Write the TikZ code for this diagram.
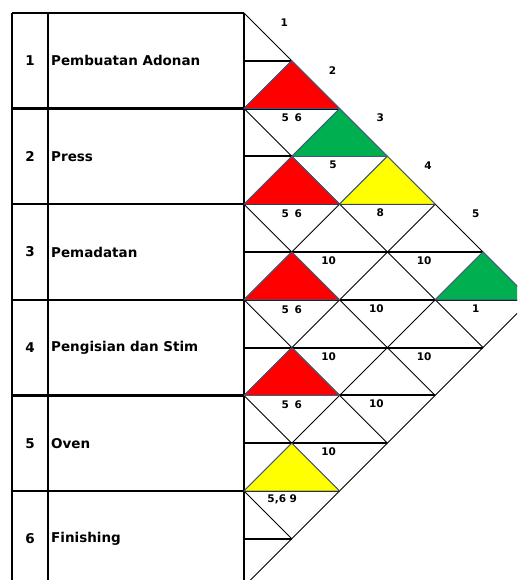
\documentclass[tikz,border=0pt]{standalone}
\usepackage{fontspec}
\setmainfont{DejaVu Sans}
\definecolor{arcred}{RGB}{255,0,0}
\definecolor{arcgreen}{RGB}{0,176,80}
\definecolor{arcyellow}{RGB}{255,255,0}
\definecolor{triedge}{RGB}{65,90,125}
\begin{document}
\begin{tikzpicture}[x=1pt,y=-1pt,
  tableline/.style={line width=2.2pt,black},
  gridh/.style={line width=1.9pt,black},
  gridd/.style={line width=0.9pt,black},
  tri/.style={draw=triedge,line width=0.9pt,line join=round},
  rowname/.style={font=\fontsize{13.5}{15}\selectfont\bfseries,anchor=west,inner sep=0pt},
  rownum/.style={font=\fontsize{13.5}{15}\selectfont\bfseries,inner sep=0pt},
  code/.style={font=\fontsize{10.5}{12}\selectfont\bfseries,inner sep=0pt}]
\useasboundingbox (0,0) rectangle (517,580);
\clip (0,0) rectangle (517,580);
% table
\foreach \k in {0,...,6}{
  \draw[tableline] (12,{13+95.6*\k}) -- (244,{13+95.6*\k});
}
\foreach \x in {12,48,244}{
  \draw[tableline] (\x,13) -- (\x,600);
}
\node[rownum] (k1) at (30,60.8) {1};
\node[rownum] (k2) at (30,156.4) {2};
\node[rownum] (k3) at (30,252.0) {3};
\node[rownum] (k4) at (30,347.6) {4};
\node[rownum] (k5) at (30,443.2) {5};
\node[rownum] (k6) at (30,538.8) {6};
\node[rowname] (n1) at (51,60.8) {Pembuatan Adonan};
\node[rowname] (n2) at (51,156.4) {Press};
\node[rowname] (n3) at (51,252.0) {Pemadatan};
\node[rowname] (n4) at (51,347.6) {Pengisian dan Stim};
\node[rowname] (n5) at (51,443.2) {Oven};
\node[rowname] (n6) at (51,538.8) {Finishing};
% relationship grid
\begin{scope}[shift={(244,13)},x=47.8pt,y=-47.8pt]
  \foreach \k in {1,...,11}{
    \pgfmathtruncatemacro\e{min(\k,12-\k)}
    \draw[gridh] (0,\k) -- (\e,\k);
  }
  \foreach \m in {0,...,5}{
    \draw[gridd] (0,2*\m) -- (6-\m,6+\m);
  }
  \foreach \m in {1,...,6}{
    \draw[gridd] (\m,\m) -- (0,2*\m);
  }
  % coloured upper halves
  \fill[arcred,tri] (0,2) -- (1,1) -- (2,2) -- cycle;
  \fill[arcgreen,tri] (1,3) -- (2,2) -- (3,3) -- cycle;
  \fill[arcyellow,tri] (2,4) -- (3,3) -- (4,4) -- cycle;
  \fill[arcgreen,tri] (4,6) -- (5,5) -- (6,6) -- cycle;
  \fill[arcred,tri] (0,4) -- (1,3) -- (2,4) -- cycle;
  \fill[arcred,tri] (0,6) -- (1,5) -- (2,6) -- cycle;
  \fill[arcred,tri] (0,8) -- (1,7) -- (2,8) -- cycle;
  \fill[arcyellow,tri] (0,10) -- (1,9) -- (2,10) -- cycle;
  % column labels
  \node[code] (c1) at (0.84,0.2) {1};
  \node[code] (c2) at (1.85,1.2) {2};
  \node[code] (c3) at (2.85,2.2) {3};
  \node[code] (c4) at (3.85,3.2) {4};
  \node[code] (c5) at (4.85,4.2) {5};
  % reasons
  \node[code] (r12) at (1.0,2.2) {5\hspace{0.2em} 6};
  \node[code] (r13) at (1.86,3.18) {5};
  \node[code] (r14) at (2.85,4.18) {8};
  \node[code] (r15) at (3.77,5.18) {10};
  \node[code] (r16) at (4.85,6.19) {1};
  \node[code] (r23) at (1.0,4.2) {5\hspace{0.2em} 6};
  \node[code] (r24) at (1.77,5.18) {10};
  \node[code] (r25) at (2.77,6.19) {10};
  \node[code] (r26) at (3.77,7.18) {10};
  \node[code] (r34) at (1.0,6.2) {5\hspace{0.2em} 6};
  \node[code] (r35) at (1.77,7.18) {10};
  \node[code] (r36) at (2.77,8.18) {10};
  \node[code] (r45) at (1.0,8.2) {5\hspace{0.2em} 6};
  \node[code] (r46) at (1.77,9.18) {10};
  \node[code] (r56) at (0.8,10.18) {5,6 9};
\end{scope}
\end{tikzpicture}
\end{document}
